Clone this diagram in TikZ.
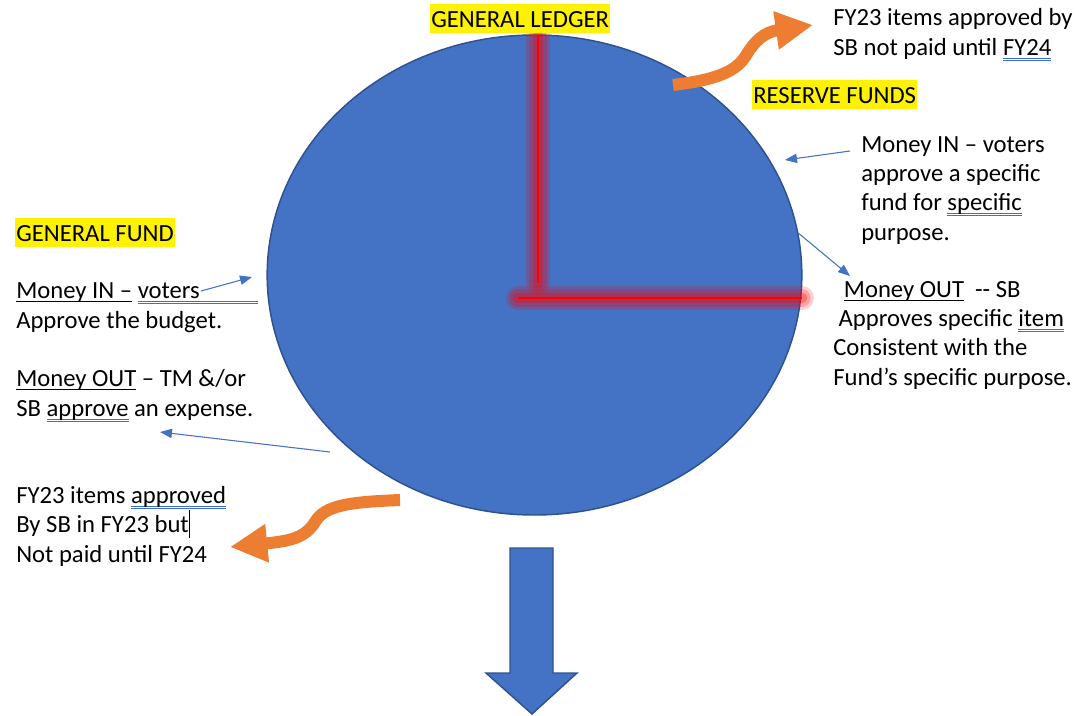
\documentclass[tikz,border=0pt]{standalone}
\usepackage{fontspec}
\setmainfont{Carlito}
\usetikzlibrary{arrows.meta, shapes.geometric}
\tikzset{>={Triangle[width=7pt,length=9pt]}}
\definecolor{fillblue}{HTML}{4472C4}
\definecolor{edgeblue}{HTML}{2F528F}
\definecolor{swooshorange}{HTML}{ED7D31}
\definecolor{spellblue}{HTML}{3C6FD6}
\newcommand{\undl}[1]{\setbox0\hbox{#1}\rlap{\rule[-2.6pt]{\wd0}{0.6pt}}\box0\relax}
\newcommand{\spellul}[1]{\setbox0\hbox{#1}\rlap{\color{spellblue}\rule[-2.4pt]{\wd0}{0.5pt}}\rlap{\color{spellblue}\rule[-3.9pt]{\wd0}{0.5pt}}\box0\relax}

\begin{document}
\begin{tikzpicture}[x=0.75pt, y=-0.75pt,
    font=\fontsize{18.5}{22}\selectfont,
    % multi-line nodes sit on the baseline of their last line
    txt/.style = {anchor=base west, align=left, inner sep=0pt},
    hilite/.style = {fill=yellow, anchor=base west, inner xsep=0.75pt,
        inner ysep=0pt, text height=17pt, text depth=4.5pt},
    pointer/.style = {->, draw=fillblue, line width=0.8pt},
    swoosh/.style = {draw=swooshorange, line width=9pt,
        -{Triangle[width=27pt,length=28pt]}},
    glowline/.style = {red, line cap=round}
  ]
  \useasboundingbox (0,0) rectangle (1079,715);

  \node[ellipse, draw=edgeblue, fill=fillblue, line width=1.1pt,
    minimum width=401pt, minimum height=360pt, inner sep=0pt] (ledger) at (534.5,275) {};

  % red hands
  \foreach \w/\o in {18/0.18, 13/0.22, 8/0.3} {
    \draw[glowline, line width=\w pt, opacity=\o] (538,35) -- (538,283);
    \draw[glowline, line width=\w pt, opacity=\o] (518,298) -- (802,298);
  }
  \draw[red, line width=1.3pt] (538,35) -- (538,283);
  \draw[red, line width=1.3pt] (518,298) -- (802,298);

  % outflow arrow
  \draw[fill=fillblue, draw=edgeblue, line width=1.1pt]
    (510,548) -- (553,548) -- (553,673) -- (577,673) -- (532,714)
    -- (486,673) -- (510,673) -- cycle;

  \node[hilite] (gledger) at (430,27) {GENERAL LEDGER};
  \node[hilite] (rfund) at (752,103) {RESERVE FUNDS};
  \node[hilite] (gfund) at (15,241) {GENERAL FUND};

  \node[txt] (gfin) at (16,328) {\undl{Money IN –} \spellul{voters\hspace{44pt}}\\Approve the budget.};
  \node[txt] (gfout) at (16,416) {\undl{Money OUT} – TM \&/or\\SB \spellul{approve} an expense.};
  \node[txt] (gfcarry) at (16,562) {FY23 items \spellul{approved}\\By SB in FY23 but\rule[-3.75pt]{0.7pt}{21pt}\\Not paid until FY24};
  \node[txt] (rfcarry) at (833,55) {FY23 items approved by\\SB not paid until \spellul{FY24}};
  \node[txt] (rfin) at (861,240) {Money IN – voters\\approve a specific\\fund for \spellul{specific}\\purpose.};
  \node[txt] (rfout) at (833,385) {\hspace*{8pt}\undl{Money OUT}\ \ -{}- SB\\\hspace*{4pt}Approves specific \spellul{item}\\Consistent with the\\Fund’s specific purpose.};

  \coordinate (ginTail) at (201,291);
  \coordinate (ginTip) at (252,277);
  \coordinate (goutTail) at (330,452);
  \coordinate (goutTip) at (160,432);
  \coordinate (rinTail) at (850,151);
  \coordinate (rinTip) at (785,160);
  \coordinate (routTip) at (850,276);
  \draw[pointer] (ginTail) -- (ginTip);
  \draw[pointer] (goutTail) -- (goutTip);
  \draw[pointer] (rinTail) -- (rinTip);
  \draw[pointer] (ledger.9) -- (routTip);

  \coordinate (topStart) at (673,85);
  \coordinate (topTip) at (813,25);
  \coordinate (botStart) at (400,500);
  \coordinate (botTip) at (230,547);
  \draw[swoosh] (topStart) .. controls (715,80) and (735,72) .. (745,57)
    .. controls (755,40) and (765,32) .. (topTip);
  \draw[swoosh] (botStart) .. controls (350,502) and (325,505) .. (315,522)
    .. controls (305,538) and (290,541) .. (botTip);
\end{tikzpicture}
\end{document}
